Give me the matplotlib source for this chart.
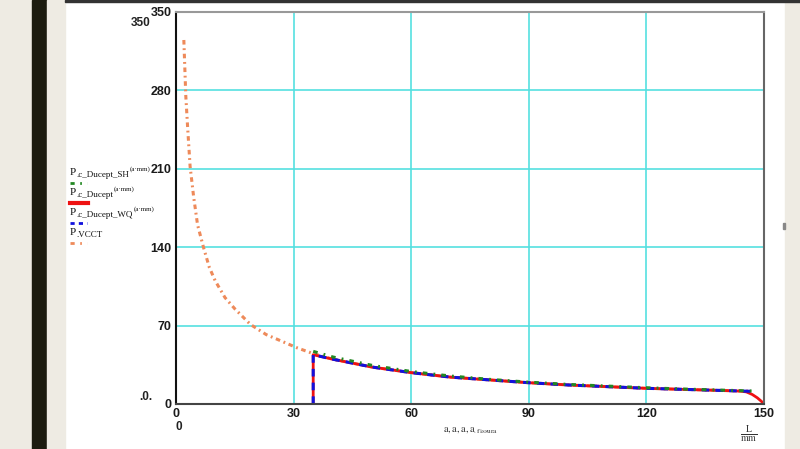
import matplotlib.pyplot as plt
from matplotlib.patches import Rectangle
from matplotlib.lines import Line2D

plt.rcParams['mathtext.fontset'] = 'stix'

# P_VCCT
vcct_x = [2, 2.5, 3, 3.6, 4.5, 5.5, 7, 8.5, 10, 12.5, 15, 19, 23, 27, 31, 35,
          40, 50, 60, 70, 80, 90, 100, 110, 120, 130, 140, 146]
vcct_y = [325, 275, 245, 212, 185, 160, 140, 122, 110, 95, 85, 71, 62, 56, 50, 45,
          40, 33, 28, 24, 21.5, 19, 17, 15.5, 14, 13, 12, 11.5]

# P_c_Ducept
duc_x = [35, 35, 40, 50, 60, 70, 80, 90, 100, 110, 120, 130, 140, 144, 145.5, 147, 148.3, 149.3, 150]
duc_y = [0, 44, 40, 33, 28, 24, 21.5, 19, 17, 15.5, 14, 13, 12, 11.5, 10.8, 8.5, 5.5, 2.5, 0]

# P_c_Ducept_WQ
wq_x = [35, 35, 40, 50, 60, 70, 80, 90, 100, 110, 120, 130, 140, 148]
wq_y = [0, 44, 40, 33, 28, 24, 21.5, 19, 17, 15.5, 14, 13, 12, 11.2]

# P_c_Ducept_SH
sh_x = [35, 40, 50, 60, 70, 80, 90, 100, 110, 120, 130, 140, 148]
sh_y = [47, 42, 34.5, 29, 25, 22, 19.5, 17.5, 16, 14.5, 13.3, 12.3, 11.5]

xticks = [0, 30, 60, 90, 120, 150]
yticks = [0, 70, 140, 210, 280, 350]

W, H = 800, 449
fig = plt.figure(figsize=(8, 4.49), dpi=100)

def px(x, y):
    return x / W, 1 - y / H

# fondo
beige = '#eeebe3'
fig.patches.append(Rectangle((0, 0), 32 / W, 1, transform=fig.transFigure, color=beige, zorder=0))
fig.patches.append(Rectangle((32 / W, 0), 15 / W, 1, transform=fig.transFigure, color='#1c1c10', zorder=0))
fig.patches.append(Rectangle((47 / W, 0), 18 / W, 1, transform=fig.transFigure, color=beige, zorder=0))
fig.patches.append(Rectangle((785 / W, 0), 15 / W, 1, transform=fig.transFigure, color=beige, zorder=0))
fig.patches.append(Rectangle((65 / W, 1 - 2 / H), 735 / W, 2 / H, transform=fig.transFigure, color='#333333', zorder=1))
fig.patches.append(Rectangle((783 / W, 1 - 229 / H), 2 / W, 6 / H, transform=fig.transFigure, color='#888888', zorder=1))

ax = fig.add_axes([176 / W, 45 / H, 588 / W, 392 / H])
ax.set_xlim(0, 150)
ax.set_ylim(0, 350)
ax.set_xticks(xticks)
ax.set_yticks(yticks)
ax.grid(True, color='#55e0e0', linewidth=1.2)
ax.set_axisbelow(True)
ax.tick_params(length=0, pad=3)
for lab in ax.get_xticklabels() + ax.get_yticklabels():
    lab.set_fontfamily('Liberation Sans')
    lab.set_fontweight('bold')
    lab.set_fontsize(9)
    lab.set_color('#1a1a1a')
ax.spines['left'].set_color('#111111')
ax.spines['bottom'].set_color('#444444')
ax.spines['top'].set_color('#999999')
ax.spines['right'].set_color('#666666')
for s in ax.spines.values():
    s.set_linewidth(1.5)

vcct_ls = (0, (1.5, 1.2, 0.6, 1.2))
sh_ls = (0, (1.5, 2, 0.6, 2))
ax.plot(vcct_x, vcct_y, color='#ee8a5a', linestyle=vcct_ls, linewidth=2.2)
ax.plot(duc_x, duc_y, color='#ee1111', linewidth=2)
ax.plot(wq_x, wq_y, color='#1111dd', linestyle=(0, (2.5, 2)), linewidth=2.2)
ax.plot(sh_x, sh_y, color='#228822', linestyle=sh_ls, linewidth=2.2)

# leyenda: P + subindice + superindice, compuestos a mano
legend = [
    ('.c_Ducept_SH', '(a\u00b7mm)', '#228822', (0, (1.5, 2, 0.6, 2)), 17),
    ('.c_Ducept', '(a\u00b7mm)', '#ee1111', '-', 18),
    ('.c_Ducept_WQ', '(a\u00b7mm)', '#1111dd', (0, (1.5, 1.5)), 17),
    ('.VCCT', None, '#ee8a5a', (0, (1.5, 2, 0.6, 2)), 17),
]
serif = 'Liberation Serif'
y0 = 175
for i, (sub, sup, col, ls, ln) in enumerate(legend):
    yy = y0 + i * 20
    tp = fig.text(*px(70, yy), 'P', fontsize=8, family=serif, va='baseline', ha='left', color='#111111')
    ts = ax.annotate(sub, xy=(1, 0), xycoords=tp, xytext=(0, 0), textcoords='offset points',
                     fontsize=6.5, family=serif, va='baseline', ha='left', color='#111111',
                     annotation_clip=False)
    if sup:
        ax.annotate(sup, xy=(1, 0), xycoords=ts, xytext=(0.5, 6), textcoords='offset points',
                    fontsize=5, family=serif, va='baseline', ha='left', color='#111111',
                    annotation_clip=False)
    x1, y1 = px(70, yy + 8)
    x2, _ = px(70 + ln, yy + 8)
    fig.add_artist(Line2D([x1, x2], [y1, y1], color=col, linestyle=ls,
                          linewidth=3 if ls == '-' else 2, transform=fig.transFigure))

# textos sueltos
fig.text(*px(141, 23), '350', fontsize=8.5, fontweight='bold', family='Liberation Sans',
         ha='center', va='center', color='#222222')
fig.text(*px(146, 397), '.0.', fontsize=8.5, fontweight='bold', family='Liberation Sans',
         ha='center', va='center', color='#222222')
fig.text(*px(179, 427), '0', fontsize=8.5, fontweight='bold', family='Liberation Sans',
         ha='center', va='center', color='#222222')
fig.text(*px(471, 430), r'$\mathrm{a, a, a, a}_{\mathrm{.fissura}}$', fontsize=7.5,
         ha='center', va='center', color='#333333')
fig.text(*px(749, 434), r'$\frac{\mathrm{L}}{\mathrm{mm}}$', fontsize=10,
         ha='center', va='center', color='#333333')

fig.savefig('out.png', dpi=100)
